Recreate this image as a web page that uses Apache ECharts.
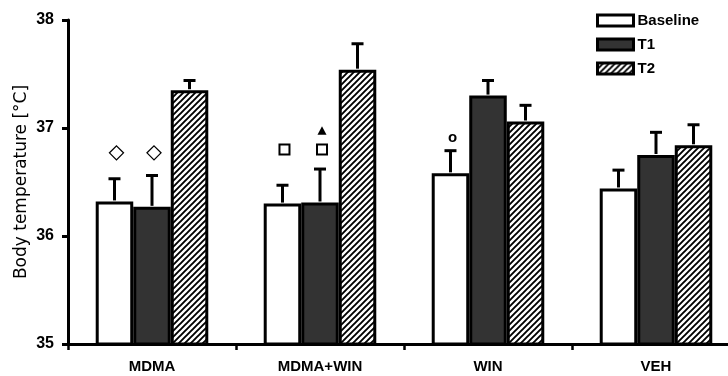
<!DOCTYPE html>
<html>
<head>
<meta charset="utf-8">
<script src="https://cdn.jsdelivr.net/npm/echarts@6/dist/echarts.min.js"></script>
<style>html,body{margin:0;padding:0;background:#fff;}#c{width:728px;height:376px;}</style>
</head>
<body>
<div id="c"></div>
<script>
const categories = ['MDMA', 'MDMA+WIN', 'WIN', 'VEH'];
const seriesNames = ['Baseline', 'T1', 'T2'];
const baseline = [36.32, 36.30, 36.58, 36.44];
const baselineErr = [0.21, 0.17, 0.21, 0.17];
const t1 = [36.27, 36.31, 37.30, 36.75];
const t1Err = [0.29, 0.31, 0.14, 0.21];
const t2 = [37.35, 37.54, 37.06, 36.84];
const t2Err = [0.09, 0.24, 0.15, 0.19];
const yTicks = [35, 36, 37, 38];
// significance markers: category index, series index, value level, kind
const markCat = [0, 0, 1, 1, 1, 2];
const markSeries = [0, 1, 0, 1, 1, 0];
const markLevel = [36.77, 36.77, 36.80, 36.80, 36.975, 36.91];
const markKind = ['diamond', 'diamond', 'square', 'square', 'triangle', 'o'];

const FONT = '"Liberation Sans", Arial, sans-serif';
const GAP = 0.33;

function hatch() {
  const c = document.createElement('canvas');
  c.width = 6; c.height = 6;
  const g = c.getContext('2d');
  g.fillStyle = '#fff'; g.fillRect(0, 0, 6, 6);
  g.strokeStyle = '#000'; g.lineWidth = 1.9;
  g.beginPath();
  g.moveTo(-1, 7); g.lineTo(7, -1);
  g.moveTo(-1, 1); g.lineTo(1, -1);
  g.moveTo(5, 7); g.lineTo(7, 5);
  g.stroke();
  return {image: c, repeat: 'repeat'};
}
const fills = ['#ffffff', '#333333', hatch()];
const values = [baseline, t1, t2];
const errs = [baselineErr, t1Err, t2Err];

function barX(api, cat, s, v) {
  const band = api.size([1, 0])[0];
  const w = band * (1 - GAP) / 3;
  return api.coord([cat, v])[0] + (s - 1) * w;
}

const series = [];
values.forEach((vals, s) => {
  series.push({
    name: seriesNames[s], type: 'bar', data: vals,
    barGap: '0%', barCategoryGap: (GAP * 100) + '%',
    itemStyle: {color: fills[s], borderColor: '#000', borderWidth: 3},
    z: 2
  });
});
values.forEach((vals, s) => {
  series.push({
    type: 'custom', z: 3, silent: true,
    data: vals.map((v, i) => [i, v, v + errs[s][i]]),
    renderItem: function (params, api) {
      const cat = api.value(0), v = api.value(1), top = api.value(2);
      const x = barX(api, cat, s, v);
      const y0 = api.coord([cat, v])[1];
      const y1 = api.coord([cat, top])[1];
      return {type: 'group', children: [
        {type: 'line', shape: {x1: x, y1: y0 - 1, x2: x, y2: y1}, style: {stroke: '#000', lineWidth: 3}},
        {type: 'line', shape: {x1: x - 6, y1: y1, x2: x + 6, y2: y1}, style: {stroke: '#000', lineWidth: 3}}
      ]};
    }
  });
});
series.push({
  type: 'custom', z: 4, silent: true,
  data: markCat.map((c, i) => [c, markLevel[i], markSeries[i], i]),
  renderItem: function (params, api) {
    const cat = api.value(0), v = api.value(1), s = api.value(2), k = markKind[api.value(3)];
    const x = barX(api, cat, s, v) + 2;
    const y = api.coord([cat, v])[1];
    if (k === 'diamond') {
      return {type: 'polygon', shape: {points: [[x, y - 7], [x + 7, y], [x, y + 7], [x - 7, y]]}, style: {fill: '#fff', stroke: '#000', lineWidth: 1.3}};
    } else if (k === 'square') {
      return {type: 'rect', shape: {x: x - 5, y: y - 5, width: 10, height: 10}, style: {fill: '#fff', stroke: '#000', lineWidth: 2}};
    } else if (k === 'triangle') {
      return {type: 'polygon', shape: {points: [[x, y - 4.5], [x + 4.5, y + 4], [x - 4.5, y + 4]]}, style: {fill: '#000'}};
    }
    return {type: 'text', x: x, y: y, style: {text: 'o', font: 'bold 15px ' + FONT, fill: '#000', align: 'center', verticalAlign: 'middle'}};
  }
});

const chart = echarts.init(document.getElementById('c'), null, {renderer: 'canvas'});
chart.setOption({
  animation: false,
  backgroundColor: '#fff',
  grid: {left: 68, top: 20, width: 672, height: 324, containLabel: false, outerBoundsMode: 'none'},
  legend: {
    orient: 'vertical', left: 596, top: 13, padding: 0, itemGap: 9,
    itemWidth: 36, itemHeight: 11, icon: 'rect',
    data: seriesNames,
    itemStyle: {borderColor: '#000', borderWidth: 3},
    textStyle: {fontFamily: FONT, fontWeight: 'bold', fontSize: 15, color: '#000', padding: [0, 0, 0, -1]}
  },
  xAxis: {
    type: 'category', data: categories, boundaryGap: true,
    axisLine: {lineStyle: {color: '#000', width: 3}},
    axisTick: {show: true, length: 6, lineStyle: {color: '#000', width: 2.5}},
    axisLabel: {fontFamily: FONT, fontWeight: 'bold', fontSize: 15, color: '#000', margin: 15},
    splitLine: {show: false}
  },
  yAxis: {
    type: 'value', min: yTicks[0], max: yTicks[yTicks.length - 1], interval: 1,
    name: 'Body temperature [°C]', nameLocation: 'middle', nameGap: 38, nameRotate: 90,
    nameMoveOverlap: false,
    nameTextStyle: {fontFamily: '"DejaVu Sans", sans-serif', fontSize: 17, color: '#000'},
    axisLine: {show: true, lineStyle: {color: '#000', width: 3}},
    axisTick: {show: true, length: 6, lineStyle: {color: '#000', width: 3}},
    axisLabel: {fontFamily: FONT, fontWeight: 'bold', fontSize: 16, color: '#000', margin: 14},
    splitLine: {show: false}
  },
  series: series
});
</script>
</body>
</html>
